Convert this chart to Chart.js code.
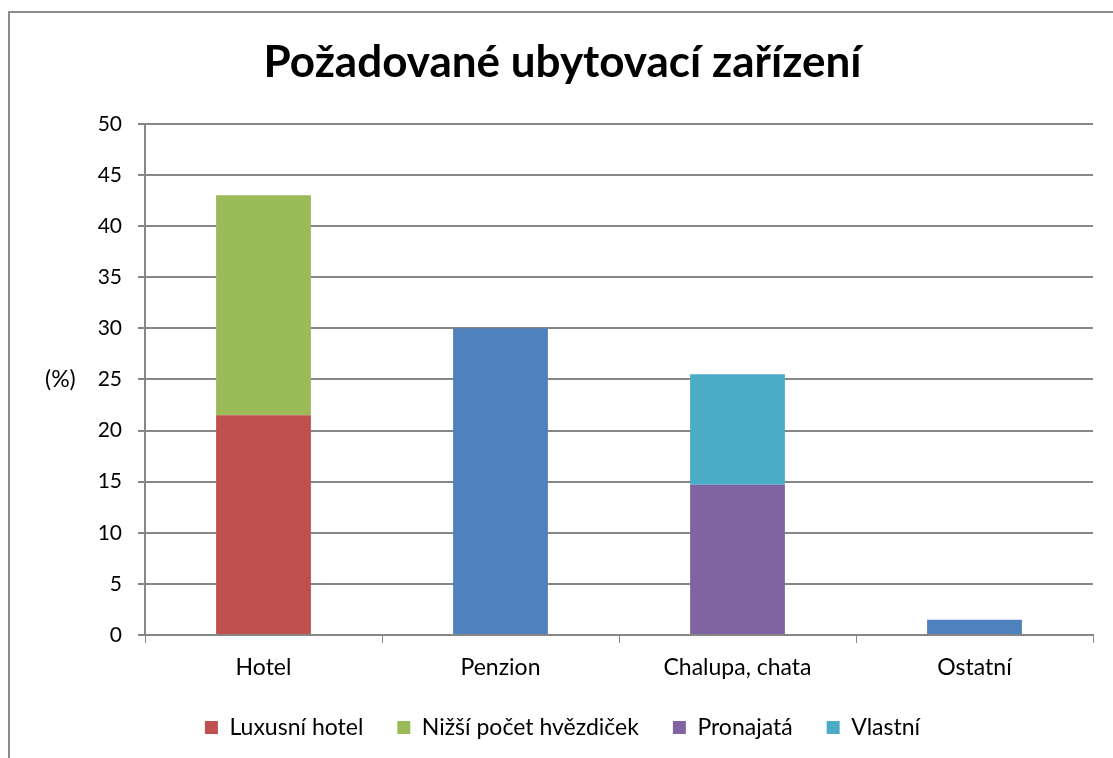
<!DOCTYPE html>
<html lang="cs">
<head>
  <meta charset="UTF-8">
  <title>Požadované ubytovací zařízení</title>
  <script src="https://cdn.jsdelivr.net/npm/chart.js"></script>
  <style>
    html, body { margin: 0; padding: 0; background: #fff; }
    #wrap { position: relative; width: 1113px; height: 758px; overflow: hidden; }
    #frame { position: absolute; left: 8px; top: 11px; width: 1200px; height: 800px;
             border-top: 2px solid #8c8c8c; border-left: 2px solid #8c8c8c; }
    canvas { position: absolute; left: 0; top: 0; }
  </style>
</head>
<body>
<div id="wrap">
  <div id="frame"></div>
  <canvas id="grafico" width="1113" height="758"></canvas>
</div>
<script>
  // kategorie a hodnoty (%)
  const kategorie = ['Hotel', 'Penzion', 'Chalupa, chata', 'Ostatní'];
  const celkem = [null, 30, null, 1.5];
  const luxusniHotel = [21.5, null, null, null];
  const nizsiPocet = [21.5, null, null, null];
  const pronajata = [null, null, 14.7, null];
  const vlastni = [null, null, 10.8, null];
  const osaY = [0, 5, 10, 15, 20, 25, 30, 35, 40, 45, 50];

  const sedaCara = '#868686';
  const pismo = 'Lato, "Open Sans", sans-serif';

  // popisek "(%)" vedle osy Y
  const popisekOsy = {
    id: 'popisekOsy',
    afterDraw(chart) {
      const ctx = chart.ctx;
      const y = chart.scales.y.getPixelForValue(25);
      ctx.save();
      ctx.font = '23px ' + pismo;
      ctx.fillStyle = '#000';
      ctx.textAlign = 'left';
      ctx.textBaseline = 'middle';
      ctx.fillText('(%)', 45, y);
      ctx.restore();
    }
  };

  const config = {
    type: 'bar',
    data: {
      labels: kategorie,
      datasets: [
        { label: '', data: celkem, backgroundColor: '#4f81bd' },
        { label: 'Luxusní hotel', data: luxusniHotel, backgroundColor: '#c0504d' },
        { label: 'Nižší počet hvězdiček', data: nizsiPocet, backgroundColor: '#9bbb59' },
        { label: 'Pronajatá', data: pronajata, backgroundColor: '#8064a2' },
        { label: 'Vlastní', data: vlastni, backgroundColor: '#4bacc6' }
      ]
    },
    options: {
      responsive: false,
      animation: false,
      layout: { padding: { top: 36, right: 20, bottom: 9, left: 32 } },
      datasets: { bar: { categoryPercentage: 1, barPercentage: 0.4 } },
      plugins: {
        tooltip: { enabled: false },
        title: {
          display: true,
          text: 'Požadované ubytovací zařízení',
          color: '#000',
          font: { family: pismo, size: 44, weight: 'bold' },
          padding: { top: 0, bottom: 35 }
        },
        legend: {
          position: 'bottom',
          labels: {
            color: '#000',
            font: { family: pismo, size: 23 },
            boxWidth: 13,
            boxHeight: 13,
            padding: 34,
            filter: item => item.text !== ''
          }
        }
      },
      scales: {
        x: {
          stacked: true,
          grid: { offset: true, drawOnChartArea: false, drawTicks: true, tickLength: 8, color: sedaCara },
          border: { color: sedaCara, width: 2 },
          ticks: { color: '#000', font: { family: pismo, size: 23 }, padding: 11 },
          afterFit: s => { s.height = 47; }
        },
        y: {
          stacked: true,
          min: 0,
          max: 50,
          afterBuildTicks: s => { s.ticks = osaY.map(v => ({ value: v })); },
          grid: { color: sedaCara, lineWidth: 2, tickLength: 7 },
          border: { color: sedaCara, width: 2 },
          ticks: { color: '#000', font: { family: pismo, size: 21 }, padding: 16 },
          afterFit: s => { s.width = 113; }
        }
      }
    },
    plugins: [popisekOsy]
  };

  new Chart(document.getElementById('grafico').getContext('2d'), config);
</script>
</body>
</html>
